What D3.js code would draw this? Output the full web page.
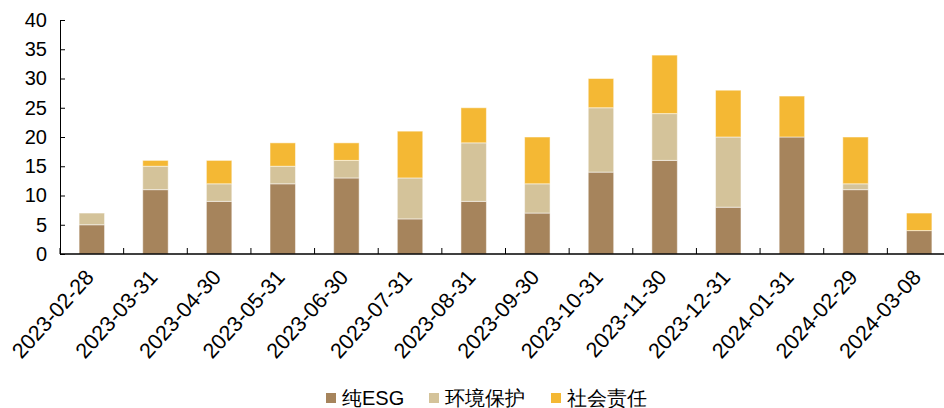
<!DOCTYPE html>
<html>
<head>
<meta charset="utf-8">
<script src="https://cdn.jsdelivr.net/npm/d3@7"></script>
<style>
    body { margin: 0; background: #fff; }
    svg { display: block; font-family: Arial, "Liberation Sans", sans-serif; }
</style>
</head>
<body>
<svg id="chart" width="944" height="408"></svg>
<script>
// month-end dates
const categories = ['2023-02-28', '2023-03-31', '2023-04-30', '2023-05-31', '2023-06-30', '2023-07-31',
    '2023-08-31', '2023-09-30', '2023-10-31', '2023-11-30', '2023-12-31', '2024-01-31', '2024-02-29', '2024-03-08'];
const seriesNames = ['纯ESG', '环境保护', '社会责任'];
const pureEsg = [5, 11, 9, 12, 13, 6, 9, 7, 14, 16, 8, 20, 11, 4];
const envProtect = [2, 4, 3, 3, 3, 7, 10, 5, 11, 8, 12, 0, 1, 0];
const socialResp = [0, 1, 4, 4, 3, 8, 6, 8, 5, 10, 8, 7, 8, 3];
const yTicks = [0, 5, 10, 15, 20, 25, 30, 35, 40];
const colors = ['#A6845C', '#D4C39A', '#F4B834'];

const rows = categories.map(function (c, i) {
    return { date: c, '纯ESG': pureEsg[i], '环境保护': envProtect[i], '社会责任': socialResp[i] };
});

const svg = d3.select('#chart');
const margin = { left: 60, right: -7, top: 20, bottom: 154 };
const width = 944, height = 408;

const x = d3.scaleBand()
    .domain(categories)
    .range([margin.left, width - margin.right])
    .paddingInner(0.6)
    .paddingOuter(0.3);

const y = d3.scaleLinear()
    .domain([0, 40])
    .range([height - margin.bottom, margin.top]);

const stacked = d3.stack().keys(seriesNames)(rows);

svg.append('g')
    .selectAll('g')
    .data(stacked)
    .join('g')
    .attr('fill', function (d, i) { return colors[i]; })
    .selectAll('rect')
    .data(function (d) { return d.filter(function (p) { return p[1] > p[0]; }); })
    .join('rect')
    .attr('x', function (d) { return x(d.data.date); })
    .attr('y', function (d) { return y(d[1]); })
    .attr('width', x.bandwidth())
    .attr('height', function (d) { return y(d[0]) - y(d[1]); })
    .attr('stroke', '#fff')
    .attr('stroke-opacity', 0.5)
    .attr('stroke-width', 1);

// y axis
const yAxis = svg.append('g')
    .attr('transform', 'translate(' + margin.left + ',0)')
    .call(d3.axisLeft(y).tickValues(yTicks).tickSize(5).tickSizeOuter(0));
yAxis.selectAll('text').attr('font-size', 20).attr('fill', '#000').attr('x', -13);
yAxis.selectAll('line, path').attr('stroke', '#000');
yAxis.selectAll('.tick line').attr('x2', 5);

// x axis, ticks between the bars
const step = x.step();
const xAxisG = svg.append('g')
    .attr('transform', 'translate(0,' + y(0) + ')');
xAxisG.append('line')
    .attr('x1', margin.left).attr('x2', width)
    .attr('stroke', '#000').attr('stroke-width', 1.5);
xAxisG.selectAll('.sep')
    .data(d3.range(categories.length))
    .join('line')
    .attr('class', 'sep')
    .attr('x1', function (i) { return margin.left + step * i; })
    .attr('x2', function (i) { return margin.left + step * i; })
    .attr('y1', 0).attr('y2', -6)
    .attr('stroke', '#000');
xAxisG.selectAll('.lab')
    .data(categories)
    .join('text')
    .attr('class', 'lab')
    .attr('transform', function (d) {
        return 'translate(' + (x(d) + x.bandwidth() / 2 - 8) + ',14) rotate(-48)';
    })
    .attr('text-anchor', 'end')
    .attr('dy', '0.7em')
    .attr('font-size', 21.5)
    .text(function (d) { return d; });

// legend
const legendItems = [
    { name: seriesNames[0], color: colors[0], x: 326 },
    { name: seriesNames[1], color: colors[1], x: 429 },
    { name: seriesNames[2], color: colors[2], x: 551 }
];
const legend = svg.append('g').selectAll('g')
    .data(legendItems)
    .join('g')
    .attr('transform', function (d) { return 'translate(' + d.x + ',393)'; });
legend.append('rect')
    .attr('width', 10).attr('height', 10)
    .attr('fill', function (d) { return d.color; });
legend.append('text')
    .attr('x', 16).attr('y', 5)
    .attr('dy', '0.35em')
    .attr('font-size', 20)
    .text(function (d) { return d.name; });
</script>
</body>
</html>
